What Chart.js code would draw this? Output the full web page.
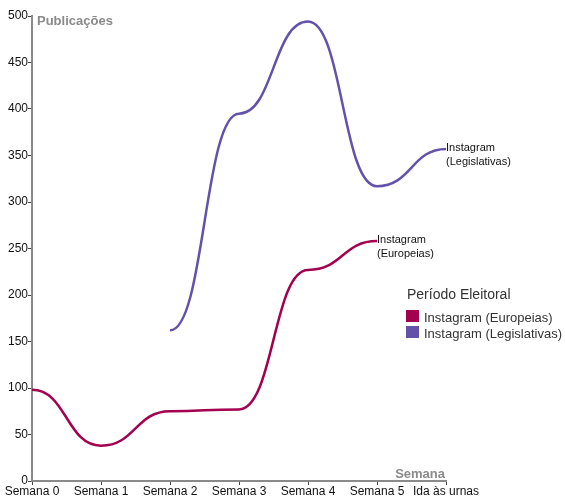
<!DOCTYPE html>
<html>
<head>
<meta charset="utf-8">
<script src="https://cdn.jsdelivr.net/npm/chart.js@4"></script>
<style>
  html, body { margin: 0; padding: 0; background: #fff; }
  #wrap { width: 565px; height: 497px; }
</style>
</head>
<body>
<div id="wrap"><canvas id="chart" width="565" height="497"></canvas></div>
<script>
// Weeks and publication counts
const weeks = ['Semana 0', 'Semana 1', 'Semana 2', 'Semana 3', 'Semana 4', 'Semana 5', 'Ida às urnas'];
const europeias = [98, 38, 75, 77, 227, 258, null];
const legislativas = [null, null, 162, 395, 494, 317, 357];
const yTicks = [0, 50, 100, 150, 200, 250, 300, 350, 400, 450, 500];

const seriesNames = ['Instagram (Europeias)', 'Instagram (Legislativas)'];
const seriesColors = ['#a3004f', '#6452aa'];
const FONT = '"Liberation Sans", Arial, sans-serif';

// Horizontal tangents at every point (bump-style curve)
const bumpCurve = {
    id: 'bumpCurve',
    beforeDatasetsDraw(chart) {
        chart.data.datasets.forEach((ds, i) => {
            const meta = chart.getDatasetMeta(i);
            const pts = meta.data;
            meta.dataset.updateControlPoints(chart.chartArea, 'x');
            pts.forEach((p, k) => {
                const prev = pts[k - 1], next = pts[k + 1];
                const hPrev = prev ? (p.x - prev.x) / 2 : 0;
                const hNext = next ? (next.x - p.x) / 2 : 0;
                p.cp1x = p.x - hPrev; p.cp1y = p.y;
                p.cp2x = p.x + hNext; p.cp2y = p.y;
            });
            delete meta.dataset._path;
        });
    }
};

// Axis titles, end labels and the legend block
const annotations = {
    id: 'annotations',
    afterDraw(chart) {
        const ctx = chart.ctx;
        const x = chart.scales.x, y = chart.scales.y;
        ctx.save();

        ctx.fillStyle = '#8a8a8a';
        ctx.font = 'bold 13px ' + FONT;
        ctx.textBaseline = 'middle';
        ctx.textAlign = 'left';
        ctx.fillText('Publicações', x.left + 5, y.top + 5);
        ctx.textAlign = 'right';
        ctx.fillText('Semana', x.right - 1, y.bottom - 7);

        // label at the end of each line
        ctx.fillStyle = '#111';
        ctx.font = '11px ' + FONT;
        ctx.textAlign = 'left';
        chart.data.datasets.forEach(ds => {
            let last = ds.data.length - 1;
            while (ds.data[last] == null) last--;
            const px = x.getPixelForValue(last);
            const py = y.getPixelForValue(ds.data[last]);
            const parts = ds.label.split(' ');
            ctx.fillText(parts[0], px, py - 1);
            ctx.fillText(parts[1], px, py + 13);
        });

        // legend
        ctx.fillStyle = '#333';
        ctx.font = '14px ' + FONT;
        ctx.fillText('Período Eleitoral', 407, 295);
        ctx.font = '13px ' + FONT;
        seriesNames.forEach((name, i) => {
            const top = 310 + i * 16;
            ctx.fillStyle = seriesColors[i];
            ctx.fillRect(406, top, 13, 12);
            ctx.fillStyle = '#333';
            ctx.fillText(name, 424, top + 8);
        });
        ctx.restore();
    }
};

new Chart(document.getElementById('chart'), {
    type: 'line',
    data: {
        labels: weeks,
        datasets: seriesNames.map((name, i) => ({
            label: name,
            data: i === 0 ? europeias : legislativas,
            borderColor: seriesColors[i],
            borderWidth: 2.5,
            pointRadius: 0,
            cubicInterpolationMode: 'monotone',
            fill: false
        }))
    },
    options: {
        responsive: false,
        animation: false,
        layout: { padding: { top: 16, right: 119, left: 0, bottom: 0 } },
        plugins: {
            legend: { display: false },
            tooltip: { enabled: false }
        },
        scales: {
            x: {
                offset: false,
                grid: { drawOnChartArea: false, tickLength: 4, color: '#444' },
                border: { color: '#8a8a8a', width: 2 },
                ticks: {
                    color: '#111',
                    font: { family: FONT, size: 12 },
                    padding: -1,
                    maxRotation: 0,
                    autoSkip: false
                },
                afterFit: s => { s.height = 16; }
            },
            y: {
                min: 0,
                max: 500,
                afterBuildTicks: s => { s.ticks = yTicks.map(v => ({ value: v })); },
                grid: { drawOnChartArea: false, tickLength: 4, color: '#444' },
                border: { color: '#8a8a8a', width: 2 },
                ticks: {
                    color: '#111',
                    font: { family: FONT, size: 12 },
                    padding: 0
                },
                afterFit: s => { s.width = 32; }
            }
        }
    },
    plugins: [bumpCurve, annotations]
});
</script>
</body>
</html>
